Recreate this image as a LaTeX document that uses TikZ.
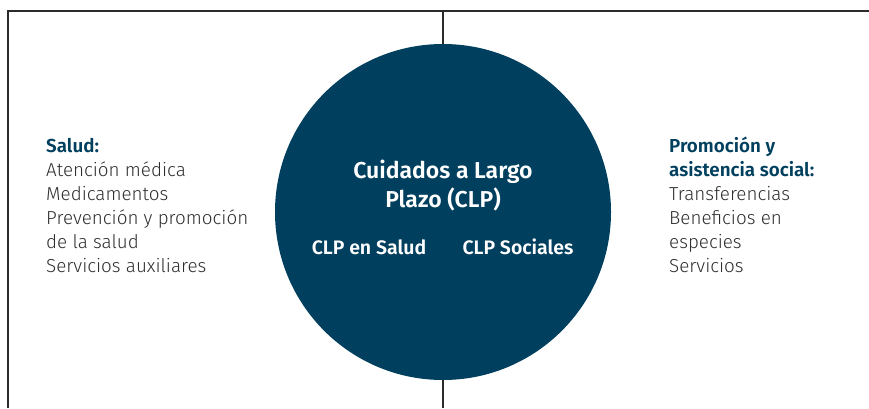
\documentclass[tikz,border=0pt]{standalone}
\usepackage{fontspec}
\setmainfont{Fira Sans}
\newfontfamily\lightf{Fira Sans Light}
\newfontfamily\semif{Fira Sans SemiBold}
\definecolor{navy}{HTML}{003F5E}
\definecolor{frame}{HTML}{2B2B2B}
\definecolor{txt}{HTML}{2E2E2E}
\begin{document}
\begin{tikzpicture}[x=1pt,y=1pt,
  frameline/.style={draw=frame,line width=2pt},
  bodytext/.style={inner sep=0pt,anchor=base west,align=left,text=txt,font=\lightf\fontsize{18.8}{24}\selectfont},
  circtext/.style={inner sep=0pt,anchor=base,align=center,text=white,font=\semif\fontsize{23}{29}\selectfont},
  subtext/.style={inner sep=0pt,anchor=base,text=white,font=\semif\fontsize{19.5}{22}\selectfont}]
\useasboundingbox (0,0) rectangle (869,408);
\coordinate (tl) at (7,397);
\coordinate (tr) at (869,397);
\coordinate (bl) at (8,0);
\coordinate (ltop) at (8,397);
\coordinate (mtop) at (443,397);
\coordinate (mbot) at (443,0);
\node[circle,fill=navy,minimum size=336pt,inner sep=0pt] (clp) at (443,196) {};
\draw[frameline] (tl) -- (tr);
\draw[frameline] (ltop) -- (bl);
\draw[frameline] (mtop) -- (clp.north);
\draw[frameline] (clp.south) -- (mbot);
\node[bodytext] (salud) at (46,136) {{\semif\color{navy}Salud:}\\Atención médica\\Medicamentos\\Prevención y promoción\\de la salud\\Servicios auxiliares};
\node[bodytext] (social) at (669,136) {{\semif\color{navy}Promoción y}\\{\semif\color{navy}asistencia social:}\\Transferencias\\Beneficios en\\especies\\Servicios};
\node[circtext] (title) at (443,201) {Cuidados a Largo\\Plazo (CLP)};
\node[subtext] (csal) at (369,154) {CLP en Salud};
\node[subtext] (csoc) at (518,154) {CLP Sociales};
\end{tikzpicture}
\end{document}
